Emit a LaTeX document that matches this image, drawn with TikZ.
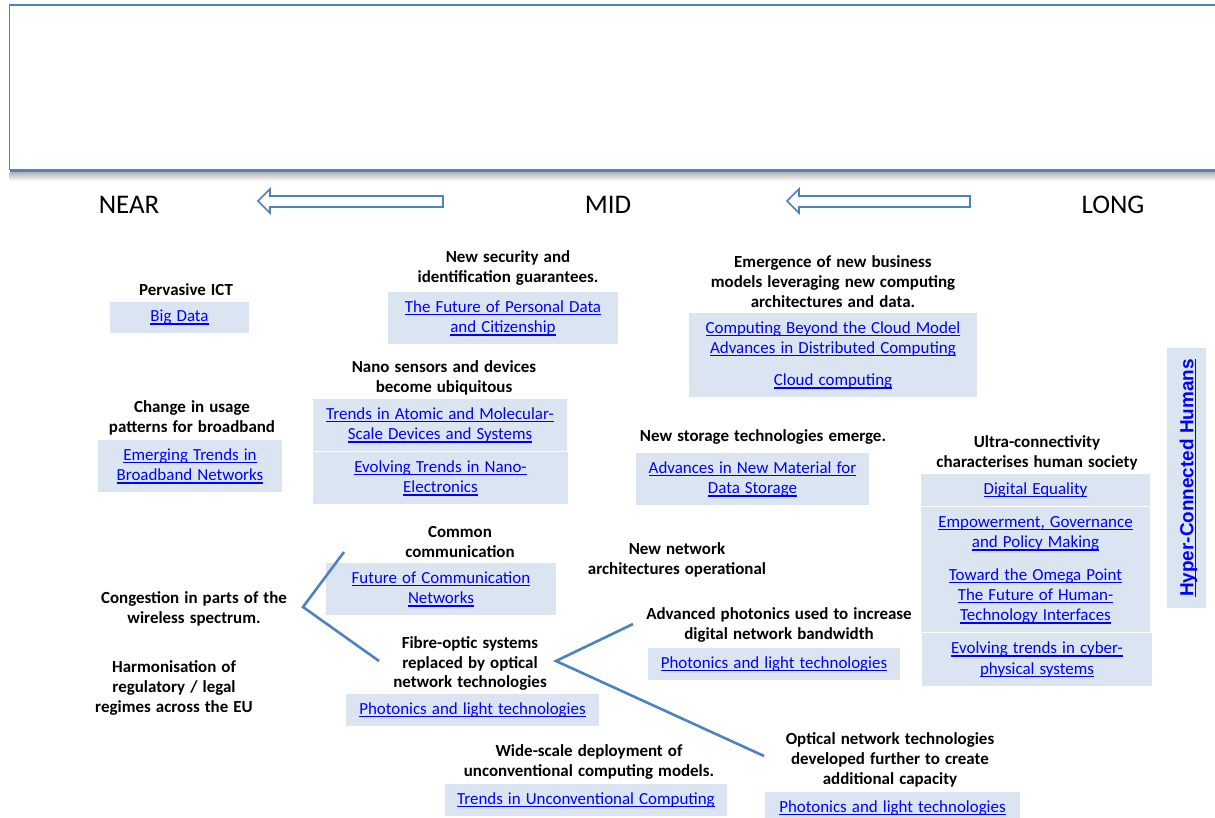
\documentclass[tikz,border=0pt]{standalone}
\usepackage{fontspec}
\setmainfont{Carlito}
\newfontfamily\arialb{Liberation Sans}
\definecolor{ln}{HTML}{4F81BD}
\definecolor{bxc}{HTML}{DBE5F1}
\definecolor{lk}{HTML}{0000FF}
\newcommand\ulk[1]{\setbox0=\hbox{#1}\rlap{\vrule width\wd0 height -1.6pt depth 2.9pt}\box0}
\newcommand\wsp{\spaceskip=0.3em plus 0.1em\relax}
\tikzset{
  lbl/.style={font=\fontsize{17}{20}\selectfont\bfseries\wsp, align=center, inner sep=0pt},
  lnk/.style={font=\fontsize{17}{20.5}\selectfont\wsp, text=lk, align=center, fill=bxc, inner sep=0pt},
  conn/.style={draw=ln, line width=2.6bp, line join=miter},
  barrow/.style={draw=ln, line width=1.6bp},
  era/.style={font=\fontsize{27}{30}\selectfont, inner sep=0pt}
}
\begin{document}
\begin{tikzpicture}[x=1bp, y=-1bp]
\useasboundingbox (0,0) rectangle (1215,818);
% top frame
\shade[top color=black!30, bottom color=white] (9.5,172) rectangle (1215,181);
\draw[ln, line width=1.6bp] (1216,5) -- (9.5,5) -- (9.5,170);
\draw[ln, line width=3bp] (9.5,170.5) -- (1216,170.5);
% era row
\node[era] (near) at (129,205) {NEAR};
\node[era] (mid) at (608,205) {MID};
\node[era] (long) at (1113,205) {LONG};
\draw[barrow] (258,201) -- (270,189) -- (270,196) -- (443,196) -- (443,207) -- (270,207) -- (270,213) -- cycle;
\draw[barrow] (787,201) -- (799,189) -- (799,196) -- (970,196) -- (970,207) -- (799,207) -- (799,213) -- cycle;

% column 1
\node[lbl] (pict) at (186,290) {Pervasive ICT};
\node[lnk, minimum width=139bp, minimum height=31bp] (bigdata) at (179.5,317.5) {\ulk{Big Data}};
\node[lbl] (usage) at (192,417.5) {Change in usage\\patterns for broadband};
\node[lnk, minimum width=184bp, minimum height=52bp] (emerg) at (190,466) {\ulk{Emerging Trends in}\\\ulk{Broadband Networks}};
\node[lbl] (cong) at (194,609) {Congestion in parts of the\\wireless spectrum.};
\node[lbl] (harm) at (174,688) {Harmonisation of\\regulatory / legal\\regimes across the EU};

% column 2
\node[lbl] (secu) at (508,268) {New security and\\identification guarantees.};
\node[lnk, minimum width=230bp, minimum height=52bp] (persdata) at (503,318) {\ulk{The Future of Personal Data}\\\ulk{and Citizenship}};
\node[lbl] (nano) at (444,378) {Nano sensors and devices\\become ubiquitous};
\node[lnk, minimum width=254bp, minimum height=52bp] (atomic) at (440,425) {\ulk{Trends in Atomic and Molecular-}\\\ulk{Scale Devices and Systems}};
\node[lnk, minimum width=255bp, minimum height=52bp] (nanoel) at (440.5,478) {\ulk{Evolving Trends in Nano-}\\\ulk{Electronics}};
\node[lbl] (common) at (460,542) {Common\\communication};
\node[lnk, minimum width=230bp, minimum height=52bp] (futcom) at (441,589) {\ulk{Future of Communication}\\\ulk{Networks}};
\node[lbl] (fibre) at (470,663.5) {Fibre-optic systems\\replaced by optical\\network technologies};
\node[lnk, minimum width=253bp, minimum height=32bp] (phot1) at (472.5,710) {\ulk{Photonics and light technologies}};
\node[lbl] (wide) at (589,762) {Wide-scale deployment of\\unconventional computing models.};
\node[lnk, minimum width=282bp, minimum height=32bp] (unconv) at (586,800) {\ulk{Trends in Unconventional Computing}};

% column 3
\node[lbl] (business) at (833,282) {Emergence of new business\\models leveraging new computing\\architectures and data.};
\node[lnk, minimum width=288bp, minimum height=84bp] (compcloud) at (833,355) {\ulk{Computing Beyond the Cloud Model}\\\ulk{Advances in Distributed Computing}\\[12bp]\ulk{Cloud computing}};
\node[lbl] (storage) at (763,437) {New storage technologies emerge.};
\node[lnk, minimum width=233bp, minimum height=52bp] (datast) at (752.5,479) {\ulk{Advances in New Material for}\\\ulk{Data Storage}};
\node[lbl] (netarch) at (677,560) {New network\\architectures operational};
\node[lbl] (advphot) at (779,625) {Advanced photonics used to increase\\digital network bandwidth};
\node[lnk, minimum width=252bp, minimum height=32bp] (phot2) at (774,664) {\ulk{Photonics and light technologies}};
\node[lbl] (optical) at (890,759.5) {Optical network technologies\\developed further to create\\additional capacity};
\node[lnk, minimum width=255bp, minimum height=32bp] (phot3) at (892.5,808) {\ulk{Photonics and light technologies}};

% column 4
\node[lbl] (ultra) at (1037,453) {Ultra-connectivity\\characterises human society};
\node[lnk, minimum width=229bp, minimum height=32bp] (digeq) at (1035.5,490) {\ulk{Digital Equality}};
\node[lnk, minimum width=229bp, minimum height=53bp] (empow) at (1035.5,533.5) {\ulk{Empowerment, Governance}\\\ulk{and Policy Making}};
\node[lnk, minimum width=229bp, minimum height=72bp] (omega) at (1035.5,596) {\ulk{Toward the Omega Point}\\\ulk{The Future of Human-}\\\ulk{Technology Interfaces}};
\node[lnk, minimum width=230bp, minimum height=53bp] (cyber) at (1037,659.5) {\ulk{Evolving trends in cyber-}\\\ulk{physical systems}};
\node[lnk, rotate=90, font=\arialb\bfseries\fontsize{19}{22}\selectfont, minimum width=260bp, minimum height=39bp, text depth=0pt] (hyper) at (1186.5,478) {\ulk{Hyper-Connected Humans}};

% connectors
\coordinate (a1) at (344,552);
\coordinate (av) at (303,607);
\coordinate (a2) at (379,661);
\coordinate (b1) at (633,624);
\coordinate (bv) at (556,661);
\coordinate (b2) at (764,756);
\draw[conn] (a1) -- (av) -- (a2);
\draw[conn] (b1) -- (bv) -- (b2);
\end{tikzpicture}
\end{document}
